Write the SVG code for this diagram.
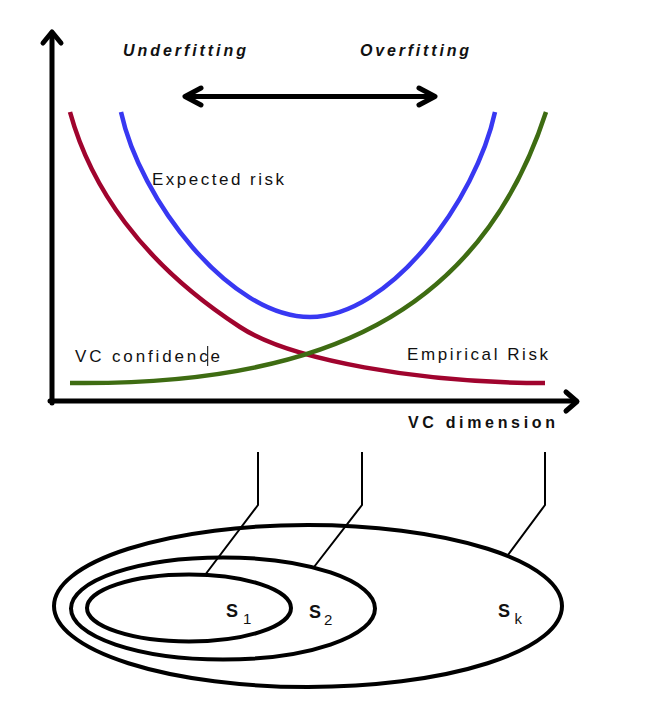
<svg xmlns="http://www.w3.org/2000/svg" width="665" height="702" viewBox="0 0 665 702">
  <style>
    .lbl { font-family: "Liberation Sans", Arial, sans-serif; font-size: 17px; fill: #111; }
    .bi { font-family: "Liberation Sans", Arial, sans-serif; font-size: 16px; font-weight: bold; font-style: italic; fill: #111; }
    .b { font-family: "Liberation Sans", Arial, sans-serif; font-size: 16px; font-weight: bold; fill: #111; }
    .s { font-family: "Liberation Sans", Arial, sans-serif; font-size: 18px; font-weight: bold; fill: #111; }
    .sub { font-family: "Liberation Sans", Arial, sans-serif; font-size: 15px; fill: #111; }
    .axis { stroke: #000; stroke-width: 5; fill: none; stroke-linecap: round; stroke-linejoin: round; }
    .curve { fill: none; stroke-width: 4.5; }
    .ell { fill: none; stroke: #000; stroke-width: 4; }
    .lead { fill: none; stroke: #000; stroke-width: 2; stroke-linejoin: miter; }
  </style>
  <rect width="665" height="702" fill="#fff"/>

  <g id="axes">
    <line class="axis" x1="52" y1="403" x2="52" y2="33"/>
    <polyline class="axis" points="43,43 52,32 61,43"/>
    <line class="axis" x1="50" y1="401" x2="576" y2="401"/>
    <polyline class="axis" points="566,392 577,401.5 566,411"/>
  </g>

  <g id="fit-arrow">
    <line class="axis" x1="187" y1="96.5" x2="433" y2="96.5"/>
    <polyline class="axis" points="201,88 185,96.5 201,105"/>
    <polyline class="axis" points="419,88 435,96.5 419,105"/>
    <text class="bi" x="123" y="56" textLength="123" lengthAdjust="spacing">Underfitting</text>
    <text class="bi" x="360" y="56" textLength="109" lengthAdjust="spacing">Overfitting</text>
  </g>

  <g id="empirical-risk">
    <path class="curve" stroke="#A0042E" d="M70,112 C90,185 140,262 240,327 C290,360 420,383 545,383"/>
    <text class="lbl" x="407" y="360" textLength="141" lengthAdjust="spacing">Empirical Risk</text>
  </g>

  <g id="expected-risk">
    <path class="curve" stroke="#3838F2" d="M121,112 C140,200 230,317 310,317 C390,317 476,200 495,112"/>
    <text class="lbl" x="152" y="185" textLength="132" lengthAdjust="spacing">Expected risk</text>
  </g>

  <g id="vc-confidence">
    <path class="curve" stroke="#3E6C12" d="M70,383 C320,386 480,315 546,112"/>
    <text class="lbl" x="75" y="362" textLength="145" lengthAdjust="spacing">VC confidence</text>
    <line x1="207.7" y1="346" x2="207.7" y2="366" stroke="#000" stroke-width="1"/>
  </g>

  <g id="x-label">
    <text class="b" x="408" y="428" textLength="147" lengthAdjust="spacing">VC dimension</text>
  </g>

  <g id="connectors">
    <polyline class="lead" points="258,452 258,505 205,575"/>
    <polyline class="lead" points="362,452 362,505 314,567"/>
    <polyline class="lead" points="545,452 545,505 508,555"/>
  </g>

  <g id="Sk">
    <ellipse class="ell" cx="308" cy="606" rx="254" ry="81"/>
    <text class="s" x="498" y="617">S</text>
    <text class="sub" x="514.5" y="623.5">k</text>
  </g>
  <g id="S2">
    <ellipse class="ell" cx="223" cy="608.5" rx="152" ry="51"/>
    <text class="s" x="309" y="617.5">S</text>
    <text class="sub" x="324" y="624.5">2</text>
  </g>
  <g id="S1">
    <ellipse class="ell" cx="189" cy="608" rx="102" ry="33.5"/>
    <text class="s" x="226" y="617">S</text>
    <text class="sub" x="243" y="623.5">1</text>
  </g>
</svg>
